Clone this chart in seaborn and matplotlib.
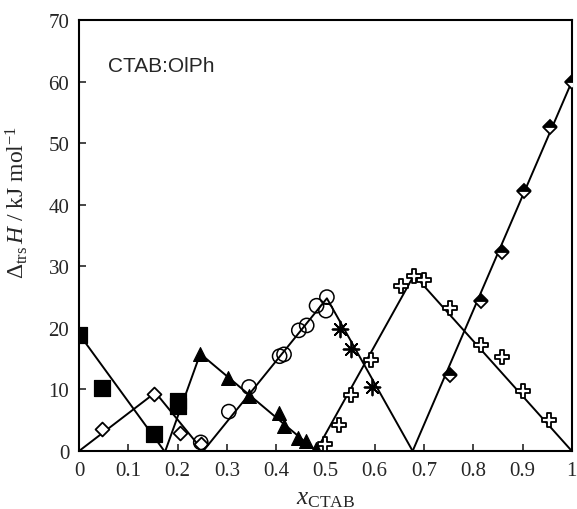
import matplotlib
matplotlib.use("Agg")
import matplotlib.pyplot as plt
import pandas as pd
import seaborn as sns
from matplotlib.ticker import FormatStrFormatter

# puntos experimentales
sq_x = [0.0, 0.047, 0.152, 0.200, 0.200]
sq_y = [18.9, 10.2, 2.8, 8.1, 7.3]

dia_x = [0.046, 0.153, 0.204, 0.248]
dia_y = [3.5, 9.3, 3.0, 1.2]

tri_x = [0.246, 0.303, 0.345, 0.405, 0.415, 0.445, 0.461, 0.481]
tri_y = [15.7, 11.9, 8.9, 6.2, 4.0, 2.1, 1.6, 0.3]

circ_x = [0.247, 0.304, 0.345, 0.407, 0.416, 0.446, 0.462, 0.482, 0.503, 0.501]
circ_y = [1.4, 6.4, 10.4, 15.4, 15.7, 19.6, 20.4, 23.6, 25.0, 22.8]

ast_x = [0.530, 0.552, 0.594]
ast_y = [19.8, 16.6, 10.4]

cross_x = [0.500, 0.527, 0.552, 0.592, 0.653, 0.680, 0.700, 0.752, 0.815, 0.858, 0.900, 0.953]
cross_y = [1.2, 4.3, 9.1, 14.8, 26.8, 28.4, 27.8, 23.3, 17.3, 15.2, 9.8, 5.0]

half_x = [0.752, 0.815, 0.859, 0.902, 0.955, 1.0]
half_y = [12.3, 24.4, 32.4, 42.2, 52.7, 60.0]

# rectas de ajuste (vertices)
fit_lines = [
    ([0.0, 0.173], [19.0, 0.0]),
    ([0.175, 0.246, 0.481], [0.0, 15.8, 0.0]),
    ([0.0, 0.155, 0.252], [0.0, 9.5, 0.0]),
    ([0.252, 0.503, 0.677], [0.0, 24.8, 0.0]),
    ([0.481, 0.680, 1.0], [0.0, 28.6, 0.0]),
    ([0.677, 1.0], [0.0, 60.0]),
]

sns.set_style("ticks")
plt.rcParams["font.family"] = ["Liberation Serif", "DejaVu Serif"]
plt.rcParams["mathtext.fontset"] = "custom"
plt.rcParams["mathtext.rm"] = "Liberation Serif"
plt.rcParams["mathtext.it"] = "Liberation Serif:italic"

fig = plt.figure(figsize=(5.77, 5.10), dpi=100)
ax = fig.add_axes([0.137, 0.1137, 0.854, 0.845])

for lx, ly in fit_lines:
    df = pd.DataFrame({"x": lx, "y": ly})
    sns.lineplot(data=df, x="x", y="y", sort=False, estimator=None,
                 color="black", linewidth=1.4, ax=ax)

sns.scatterplot(x=sq_x, y=sq_y, marker="s", s=120, color="black",
                edgecolor="black", ax=ax, zorder=3)
sns.scatterplot(x=dia_x, y=dia_y, marker="D", s=50, color="white",
                edgecolor="black", linewidth=1.3, ax=ax, zorder=3)
sns.scatterplot(x=tri_x, y=tri_y, marker="^", s=100, color="black",
                edgecolor="black", ax=ax, zorder=3)
sns.scatterplot(x=circ_x, y=circ_y, marker="o", s=105, color="none",
                edgecolor="black", linewidth=1.1, ax=ax, zorder=3)
sns.scatterplot(x=ast_x, y=ast_y, marker=(8, 2, 0), s=130, color="black",
                linewidth=1.3, ax=ax, zorder=3)
sns.scatterplot(x=cross_x, y=cross_y, marker="P", s=110, color="white",
                edgecolor="black", linewidth=1.3, ax=ax, zorder=3)
ax.plot(half_x, half_y, linestyle="none", marker="D", markersize=7.5,
        fillstyle="top", markerfacecolor="black", markerfacecoloralt="white",
        markeredgecolor="black", markeredgewidth=1.3, zorder=3)

ax.set_xlim(0, 1)
ax.set_ylim(0, 70)
ax.set_xticks([0, 0.1, 0.2, 0.3, 0.4, 0.5, 0.6, 0.7, 0.8, 0.9, 1.0])
ax.set_yticks([0, 10, 20, 30, 40, 50, 60, 70])
ax.xaxis.set_major_formatter(FormatStrFormatter("%g"))
ax.tick_params(direction="in", length=5, width=1.2, labelsize=15, pad=7)
for sp in ax.spines.values():
    sp.set_visible(True)
    sp.set_linewidth(1.5)
    sp.set_color("black")

ax.set_xlabel(r"$x_{\rm CTAB}$", fontsize=18, labelpad=5)
ax.set_ylabel(r"$\Delta_{\rm trs}\,H$ / kJ mol$^{-1}$", fontsize=17)
ax.yaxis.set_label_coords(-0.10, 0.58)

ax.text(0.059, 62.7, "CTAB:OlPh", fontsize=15, family="Liberation Sans",
        va="center", ha="left")

fig.savefig("out.png", dpi=100)
